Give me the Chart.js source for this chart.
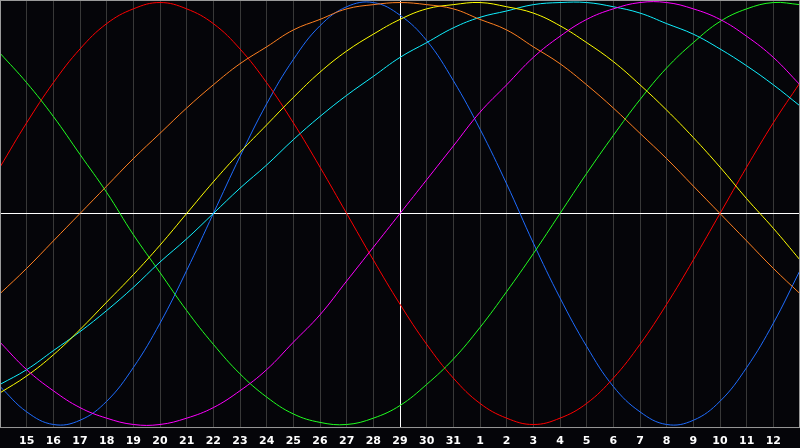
<!DOCTYPE html>
<html>
<head>
<meta charset="utf-8">
<script src="https://cdn.jsdelivr.net/npm/chart.js@4/dist/chart.umd.min.js"></script>
<style>
  html, body { margin: 0; padding: 0; background: #050509; }
  #wrap { width: 800px; height: 448px; }
</style>
</head>
<body>
<div id="wrap"><canvas id="bioCanvas"></canvas></div>
<script>
// dias mostrados (14 .. 13 del mes siguiente), hoy = 29
const dayLabels = ['14','15','16','17','18','19','20','21','22','23','24','25','26','27','28','29',
                   '30','31','1','2','3','4','5','6','7','8','9','10','11','12','13'];
const todayIndex = 15;

// valores en %, uno por dia
const physical     = [-82,-94,-100,-98,-89,-73,-52,-27,0,27,52,73,89,98,100,94,82,63,40,14,-14,-40,-63,-82,-94,-100,-98,-89,-73,-52,-27];
const emotional    = [22,43,62,78,90,97,100,97,90,78,62,43,22,0,-22,-43,-62,-78,-90,-97,-100,-97,-90,-78,-62,-43,-22,0,22,43,62];
const intellectual = [76,62,46,28,10,-10,-28,-46,-62,-76,-87,-95,-99,-100,-97,-91,-81,-69,-54,-37,-19,0,19,37,54,69,81,91,97,100,99];
const intuitive    = [-61,-74,-84,-92,-97,-100,-100,-97,-92,-84,-74,-61,-48,-32,-16,0,16,32,48,61,74,84,92,97,100,100,97,92,84,74,61];
const awareness    = [-38,-26,-13,0,13,26,38,50,61,71,79,87,92,97,99,100,99,97,92,87,79,71,61,50,38,26,13,0,-13,-26,-38];
const aesthetic    = [-85,-77,-67,-55,-42,-29,-15,0,15,29,42,55,67,77,85,92,97,99,100,98,95,89,81,72,61,49,36,22,7,-7,-22];
const spiritual    = [-81,-74,-65,-56,-46,-35,-23,-12,0,12,23,35,46,56,65,74,81,88,93,96,99,100,100,98,95,90,85,78,70,61,51];

const series = [
    { label: 'Intuitive',    data: intuitive,    color: '#ff00ff' },
    { label: 'Awareness',    data: awareness,    color: '#ff8020' },
    { label: 'Aesthetic',    data: aesthetic,    color: '#ffff00' },
    { label: 'Spiritual',    data: spiritual,    color: '#10f0ff' },
    { label: 'Intellectual', data: intellectual, color: '#20ff20' },
    { label: 'Emotional',    data: emotional,    color: '#ff0000' },
    { label: 'Physical',     data: physical,     color: '#1e6cff' }
];

// marco gris alrededor del area del grafico
const framePlugin = {
    id: 'frame',
    afterDraw(chart) {
        const { ctx, chartArea: a } = chart;
        ctx.save();
        ctx.strokeStyle = '#9a9a9a';
        ctx.lineWidth = 1;
        ctx.strokeRect(a.left + 0.5, a.top + 0.5, a.right - a.left - 1, a.bottom - a.top);
        ctx.restore();
    }
};

const bgPlugin = {
    id: 'bg',
    beforeDraw(chart) {
        const ctx = chart.ctx;
        ctx.save();
        ctx.fillStyle = '#050509';
        ctx.fillRect(0, 0, chart.width, chart.height);
        ctx.restore();
    }
};

const ctx = document.getElementById('bioCanvas').getContext('2d');
new Chart(ctx, {
    type: 'line',
    data: {
        labels: dayLabels,
        datasets: series.map(s => ({
            label: s.label,
            data: s.data,
            borderColor: s.color,
            backgroundColor: s.color,
            borderWidth: 1,
            pointRadius: 0,
            fill: false,
            tension: 0.4
        }))
    },
    options: {
        responsive: true,
        maintainAspectRatio: false,
        animation: false,
        layout: { autoPadding: false, padding: 0 },
        plugins: { legend: { display: false }, tooltip: { enabled: false } },
        scales: {
            x: {
                type: 'category',
                offset: false,
                grid: {
                    drawTicks: true,
                    tickLength: 7,
                    tickColor: 'transparent',
                    color: c => c.index === todayIndex ? '#ffffff' : '#383838',
                    lineWidth: 1
                },
                border: { display: false },
                ticks: {
                    autoSkip: false,
                    maxRotation: 0,
                    padding: 0,
                    color: '#ffffff',
                    font: { family: 'DejaVu Sans', size: 11, weight: 'bold', lineHeight: 1.27 },
                    callback: function(value, index) {
                        if (index === 0 || index === dayLabels.length - 1) return '';
                        return dayLabels[index];
                    }
                }
            },
            y: {
                min: -101.2,
                max: 101.2,
                afterBuildTicks: scale => { scale.ticks = [{ value: 0 }]; },
                ticks: { display: false },
                grid: { drawTicks: false, color: '#ffffff', lineWidth: 1 },
                border: { display: false }
            }
        }
    },
    plugins: [bgPlugin, framePlugin]
});
</script>
</body>
</html>
